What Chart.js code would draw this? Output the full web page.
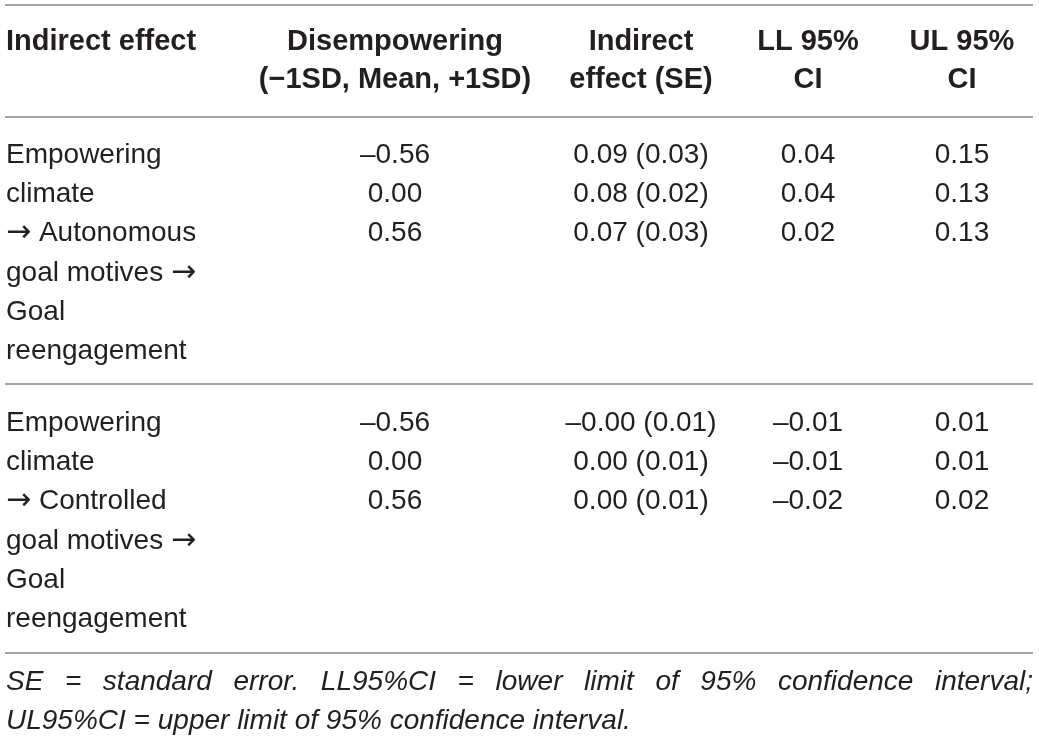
<!DOCTYPE html>
<html>
<head>
<meta charset="utf-8">
<script src="https://cdn.jsdelivr.net/npm/chart.js@4/dist/chart.umd.min.js"></script>
<style>
  html, body { margin: 0; padding: 0; background: #ffffff; }
  #wrap { width: 1039px; height: 739px; }
</style>
</head>
<body>
<div id="wrap"><canvas id="myChart" width="1039" height="739"></canvas></div>
<script>
// table content
const columnHeaders = [
  ["Indirect effect"],
  ["Disempowering", "(\u22121SD, Mean, +1SD)"],
  ["Indirect", "effect (SE)"],
  ["LL 95%", "CI"],
  ["UL 95%", "CI"]
];
const pathLabels = [
  ["Empowering", "climate", "\u2192 Autonomous", "goal motives \u2192", "Goal", "reengagement"],
  ["Empowering", "climate", "\u2192 Controlled", "goal motives \u2192", "Goal", "reengagement"]
];
const disempowering = [-0.56, 0.00, 0.56];
const indirectEffect = [[0.09, 0.08, 0.07], [-0, 0.00, 0.00]];
const standardError = [[0.03, 0.02, 0.03], [0.01, 0.01, 0.01]];
const lowerCI = [[0.04, 0.04, 0.02], [-0.01, -0.01, -0.02]];
const upperCI = [[0.15, 0.13, 0.13], [0.01, 0.01, 0.02]];
const footnote = [
  "SE = standard error. LL95%CI = lower limit of 95% confidence interval;",
  "UL95%CI = upper limit of 95% confidence interval."
];

// layout (in scale units = px)
const layout = {
  left: 5,
  right: 1033,
  colX: [6, 395, 641, 808, 962],
  headerBase: [50, 88],
  groupBase: [163, 431],
  lineStep: 39.2,
  rules: [5, 117, 384, 653],
  footBase: [690, 729]
};

const textColor = "#231f20";
const ruleColor = "#a3a3a3";
const bodyFont = "28px 'Liberation Sans', Arial, sans-serif";
const arrowFont = "30px 'DejaVu Sans', sans-serif";

function fmt(v) {
  const neg = v < 0 || Object.is(v, -0);
  return (neg ? "\u2013" : "") + Math.abs(v).toFixed(2);
}

// left aligned text, arrows drawn with a font that has a long arrow
function drawLabel(ctx, text, x, y) {
  const parts = text.split(/(\u2192)/);
  let cx = x;
  parts.forEach((p) => {
    if (!p) return;
    ctx.font = p === "\u2192" ? arrowFont : bodyFont;
    ctx.fillText(p, cx, y);
    cx += ctx.measureText(p).width;
  });
  ctx.font = bodyFont;
}

const tablePlugin = {
  id: "tableText",
  afterDatasetsDraw(chart) {
    const ctx = chart.ctx;
    const xs = chart.scales.x;
    const ys = chart.scales.y;
    ctx.save();
    ctx.fillStyle = textColor;
    ctx.textBaseline = "alphabetic";

    // header
    ctx.font = "bold 29px 'Liberation Sans', Arial, sans-serif";
    columnHeaders.forEach((lines, c) => {
      ctx.textAlign = c === 0 ? "left" : "center";
      lines.forEach((t, i) => {
        ctx.fillText(t, xs.getPixelForValue(layout.colX[c]), ys.getPixelForValue(layout.headerBase[i]));
      });
    });

    // body
    ctx.font = bodyFont;
    pathLabels.forEach((lines, g) => {
      const base = layout.groupBase[g];
      ctx.textAlign = "left";
      lines.forEach((t, i) => {
        drawLabel(ctx, t, xs.getPixelForValue(layout.colX[0]), ys.getPixelForValue(base + i * layout.lineStep));
      });
      ctx.textAlign = "center";
      disempowering.forEach((d, r) => {
        const y = ys.getPixelForValue(base + r * layout.lineStep);
        ctx.fillText(fmt(d), xs.getPixelForValue(layout.colX[1]), y);
        ctx.fillText(fmt(indirectEffect[g][r]) + " (" + fmt(standardError[g][r]) + ")", xs.getPixelForValue(layout.colX[2]), y);
        ctx.fillText(fmt(lowerCI[g][r]), xs.getPixelForValue(layout.colX[3]), y);
        ctx.fillText(fmt(upperCI[g][r]), xs.getPixelForValue(layout.colX[4]), y);
      });
    });

    // footnote, first line justified
    ctx.font = "italic 28px 'Liberation Sans', Arial, sans-serif";
    ctx.textAlign = "left";
    const x0 = xs.getPixelForValue(layout.colX[0]);
    const x1 = xs.getPixelForValue(layout.right);
    const words = footnote[0].split(" ");
    const wordsW = words.reduce((s, w) => s + ctx.measureText(w).width, 0);
    const gap = (x1 - x0 - wordsW) / (words.length - 1);
    let cx = x0;
    const fy = ys.getPixelForValue(layout.footBase[0]);
    words.forEach((w) => {
      ctx.fillText(w, cx, fy);
      cx += ctx.measureText(w).width + gap;
    });
    ctx.fillText(footnote[1], x0, ys.getPixelForValue(layout.footBase[1]));
    ctx.restore();
  }
};

const ruleSets = layout.rules.map((y) => ({
  data: [{ x: layout.left, y: y }, { x: layout.right, y: y }],
  borderColor: ruleColor,
  borderWidth: 2,
  pointRadius: 0,
  fill: false
}));

const config = {
  type: "line",
  data: { datasets: ruleSets },
  plugins: [tablePlugin],
  options: {
    responsive: false,
    animation: false,
    layout: { padding: 0 },
    scales: {
      x: { type: "linear", min: 0, max: 1039, display: false },
      y: { type: "linear", min: 0, max: 739, reverse: true, display: false }
    },
    plugins: {
      legend: { display: false },
      tooltip: { enabled: false }
    }
  }
};

new Chart(document.getElementById("myChart"), config);
</script>
</body>
</html>
